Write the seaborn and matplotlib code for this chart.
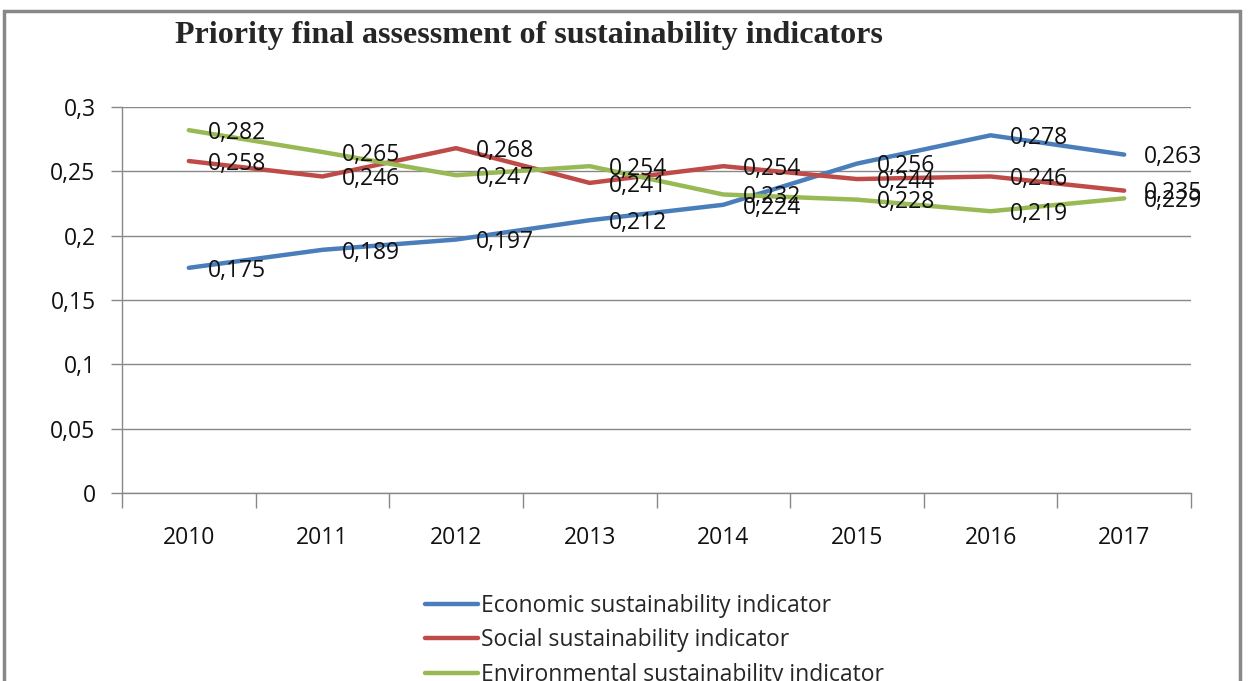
import matplotlib
matplotlib.use("Agg")
import matplotlib.pyplot as plt
import seaborn as sns
import pandas as pd
from matplotlib.patches import Rectangle
from matplotlib.ticker import FixedLocator, FuncFormatter

years = ["2010", "2011", "2012", "2013", "2014", "2015", "2016", "2017"]
economic = [0.175, 0.189, 0.197, 0.212, 0.224, 0.256, 0.278, 0.263]
social = [0.258, 0.246, 0.268, 0.241, 0.254, 0.244, 0.246, 0.235]
environmental = [0.282, 0.265, 0.247, 0.254, 0.232, 0.228, 0.219, 0.229]
series_names = ["Economic sustainability indicator",
                "Social sustainability indicator",
                "Environmental sustainability indicator"]
colors = ["#4A7EBB", "#BE4B48", "#98B954"]
title = "Priority final assessment of sustainability indicators"

sns.set_theme(style="white")
plt.rcParams['font.family'] = ['Open Sans', 'DejaVu Sans']

rows = []
for name, vals in zip(series_names, [economic, social, environmental]):
    for i, v in enumerate(vals):
        rows.append({"idx": i, "year": years[i], "value": v, "series": name})
df = pd.DataFrame(rows)

fig = plt.figure(figsize=(12.48, 6.81), dpi=100)
ax = fig.add_axes([122/1248, 1-493/681, (1191-122)/1248, (493-107)/681])

sns.lineplot(data=df, x="idx", y="value", hue="series", palette=colors,
             hue_order=series_names, linewidth=3.2, ax=ax, legend=True,
             solid_capstyle="round")

fs = 16.5
ax.set_xlim(-0.5, len(years) - 0.5)
ax.set_ylim(0, 0.3)
ax.yaxis.set_major_locator(FixedLocator([0, 0.05, 0.1, 0.15, 0.2, 0.25, 0.3]))
ax.yaxis.set_major_formatter(FuncFormatter(lambda v, p: ("%g" % round(v, 3)).replace(".", ",")))
ax.set_xticks(range(len(years)))
ax.set_xticklabels(years)
ax.xaxis.set_minor_locator(FixedLocator([i - 0.5 for i in range(len(years) + 1)]))
ax.tick_params(axis="x", which="major", length=0, pad=24, labelsize=fs, colors="#111111")
ax.tick_params(axis="x", which="minor", length=11, width=1, color="#888888", direction="out", bottom=True)
ax.tick_params(axis="y", which="major", length=8, width=1, color="#888888", direction="out",
               left=True, pad=11, labelsize=fs, labelcolor="#111111")
ax.grid(axis="y", color="#888888", linewidth=1)
ax.grid(axis="x", visible=False)
for s in ["top", "right"]:
    ax.spines[s].set_visible(False)
for s in ["left", "bottom"]:
    ax.spines[s].set_color("#888888")
    ax.spines[s].set_linewidth(1)
ax.set_xlabel("")
ax.set_ylabel("")
ax.set_axisbelow(True)

for name, vals in zip(series_names, [economic, social, environmental]):
    for i, v in enumerate(vals):
        ax.annotate(("%.3f" % v).replace(".", ","), (i, v), xytext=(14, -2),
                    textcoords="offset points", ha="left", va="center",
                    fontsize=fs, color="#111111")

handles, labels = ax.get_legend_handles_labels()
ax.get_legend().remove()
fig.legend(handles, labels, loc="upper left", bbox_to_anchor=(416/1248, 1-585/681),
           frameon=False, fontsize=fs, handlelength=2.3, handletextpad=0.12,
           labelspacing=0.45, borderaxespad=0)

fig.text(175/1248, 1-35/681, title, ha="left", va="center",
         fontsize=23, fontweight="bold", family=["Liberation Serif", "DejaVu Serif"])

fig.patches.append(Rectangle((4/1248, -0.05), (1240-4)/1248, 1.05 - 11/681,
                             transform=fig.transFigure, fill=False,
                             edgecolor="#888888", linewidth=2.5))

fig.savefig("out.png", dpi=100)
